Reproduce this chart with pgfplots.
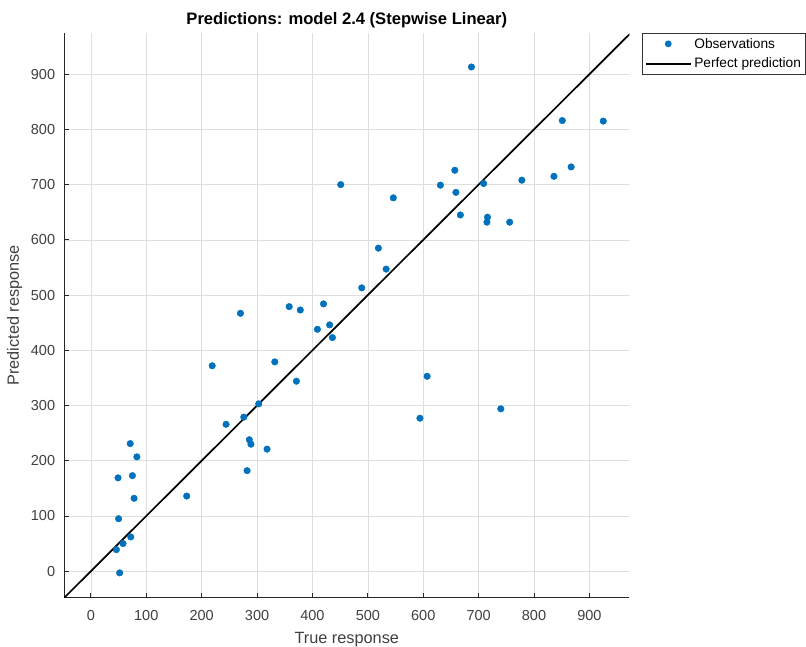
\documentclass[border=0pt]{standalone}
\usepackage{pgfplots}
\pgfplotsset{compat=1.18}
\usepackage{fontspec}
\setmainfont{Liberation Sans}
\definecolor{mblue}{rgb}{0,0.447,0.741}
\definecolor{axgray}{rgb}{0.15,0.15,0.15}
\definecolor{txtgray}{rgb}{0.25,0.25,0.25}
\pgfplotstableread{
x y
270 467
358 479
378 473
420 484
409 438
431 446
436 423
219 372
332 379
371 344
303 303
276 279
244 266
286 238
289 230
318 221
282 182
173 136
71 231
83 207
49 169
75 173
78 132
50 95
72 62
58 50
46 39
52 -3
451 700
546 676
519 585
533 547
489 513
687 913
851 816
925 815
867 732
836 715
778 708
657 726
631 699
709 702
659 686
667 645
716 641
715 632
756 632
607 353
594 277
740 294
}\obs
\begin{document}
\begin{tikzpicture}
\useasboundingbox (0,0) rectangle (806pt,647pt);
\begin{axis}[
  at={(64.3pt,49.3pt)}, anchor=south west,
  width=565pt, height=564.4pt, scale only axis,
  xmin=-48, xmax=972, ymin=-48, ymax=974,
  axis lines*=left,
  axis line style={color=axgray, line width=1.1pt},
  xtick={0,100,...,900}, ytick={0,100,...,900},
  tick align=inside, major tick length=5pt,
  tick style={color=axgray, line width=0.8pt},
  grid=major, grid style={color=black!13, line width=0.6pt},
  /pgf/number format/assume math mode=true,
  ticklabel style={font=\fontsize{14.5}{14.5}\selectfont, text=txtgray},
  xticklabel style={anchor=center, yshift=-18pt},
  yticklabel style={anchor=east, inner sep=0pt, xshift=-9pt},
  xlabel={True response},
  ylabel={Predicted response},
  xlabel style={at={(axis description cs:0.5,-0.0808)}, anchor=base, font=\fontsize{16.3}{16.3}\selectfont, text=txtgray},
  ylabel style={at={(axis description cs:-0.088,0.5)}, anchor=center, font=\fontsize{16.3}{16.3}\selectfont, text=txtgray},
  title={\bfseries Predictions: model 2.4 (Stepwise Linear)},
  title style={at={(axis description cs:0.5,1.0045)}, anchor=base, font=\fontsize{16.6}{16.6}\selectfont},
  legend style={at={(1.023,1)}, anchor=north west, draw=black!80, line width=0.7pt,
    font=\fontsize{13.7}{13.7}\selectfont, inner xsep=2.5pt, inner ysep=2.5pt,
    cells={anchor=west}, row sep=4.5pt,
    /tikz/every odd column/.append style={column sep=1pt}},
]
\addplot[only marks, mark=*, mark size=3.3pt, color=mblue, mark options={draw=mblue, fill=mblue},
  legend image code/.code={\fill[mblue] (22.3pt,0pt) circle (3pt); \path[draw=none] (0pt,0pt) -- (44.6pt,0pt);}]
  table[x=x, y=y] {\obs};
\addlegendentry{Observations}
\addplot[black, line width=1.7pt, no marks,
  legend image code/.code={\draw[black, line width=1.6pt] (0pt,0pt) -- (44.6pt,0pt);}]
  coordinates {(-48,-48) (974,974)};
\addlegendentry{Perfect prediction}
\end{axis}
\end{tikzpicture}
\end{document}
